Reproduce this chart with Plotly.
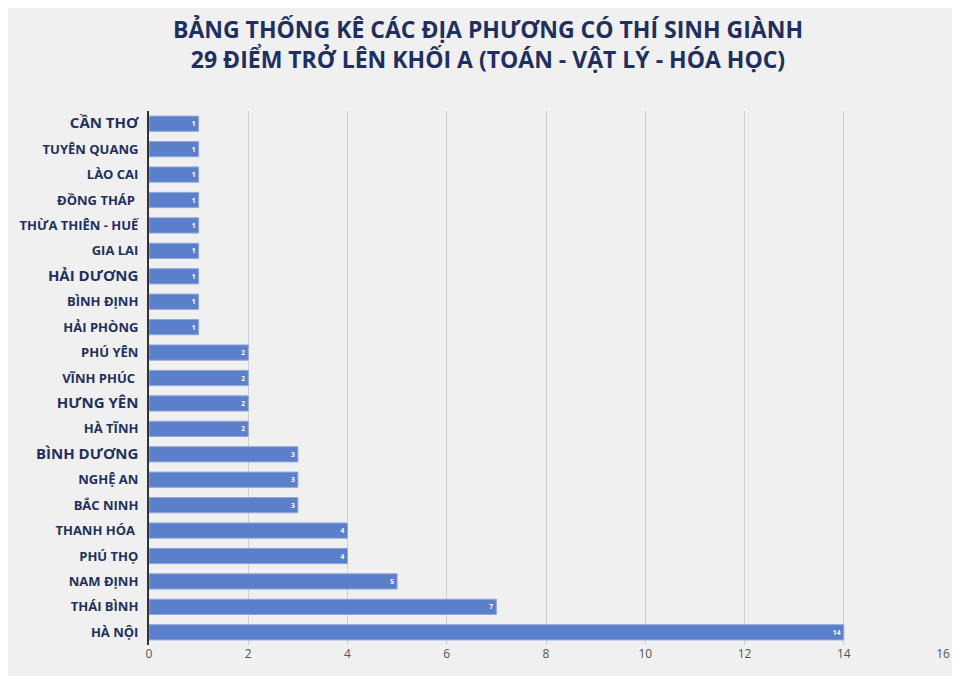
import plotly.graph_objects as go

provinces = ["HÀ NỘI", "THÁI BÌNH", "NAM ĐỊNH", "PHÚ THỌ", "THANH HÓA ", "BẮC NINH",
             "NGHỆ AN", "BÌNH DƯƠNG", "HÀ TĨNH", "HƯNG YÊN", "VĨNH PHÚC ", "PHÚ YÊN",
             "HẢI PHÒNG", "BÌNH ĐỊNH", "HẢI DƯƠNG", "GIA LAI", "THỪA THIÊN - HUẾ",
             "ĐỒNG THÁP ", "LÀO CAI", "TUYÊN QUANG", "CẦN THƠ"]
counts = [14, 7, 5, 4, 4, 3, 3, 3, 2, 2, 2, 2, 1, 1, 1, 1, 1, 1, 1, 1, 1]
big_labels = {"CẦN THƠ", "HẢI DƯƠNG", "HƯNG YÊN", "BÌNH DƯƠNG"}
x_ticks = [0, 2, 4, 6, 8, 10, 12, 14, 16]

navy = "#1F2F5F"
tick_text = [f"<span style='font-size:15px'>{p}</span>" if p in big_labels else p
             for p in provinces]

fig = go.Figure(go.Bar(
    x=counts, y=provinces, orientation="h",
    marker=dict(color="#5B7FCB", line=dict(color="#8FA8DC", width=1)),
    width=0.6,
    text=counts, textposition="inside", insidetextanchor="end", textangle=0,
    textfont=dict(color="white", size=13, family="Open Sans", weight="bold"),
))

fig.update_layout(
    width=960, height=676,
    margin=dict(l=141, r=25, t=103, b=39),
    paper_bgcolor="#F0F0F0", plot_bgcolor="rgba(0,0,0,0)",
    title=dict(
        text="BẢNG THỐNG KÊ CÁC ĐỊA PHƯƠNG CÓ THÍ SINH GIÀNH<br>29 ĐIỂM TRỞ LÊN KHỐI A (TOÁN - VẬT LÝ - HÓA HỌC)",
        x=0.5, xanchor="center", y=0.955, yanchor="top",
        font=dict(family="Open Sans", size=23, color=navy, weight="bold"),
    ),
    font=dict(family="Open Sans"),
    showlegend=False,
)
fig.update_xaxes(range=[0, 16], tickvals=x_ticks, showgrid=True, gridcolor="#D0D0D0",
                 zeroline=False, automargin=False, tickfont=dict(size=12, color="#555555"))
fig.update_yaxes(categoryorder="array", categoryarray=provinces, tickvals=provinces,
                 ticktext=tick_text, showline=True, linecolor="#333333", linewidth=2,
                 ticks="outside", ticklen=6, tickcolor="rgba(0,0,0,0)", automargin=False,
                 tickfont=dict(size=13, color=navy, weight="bold"))

fig.write_html("out.html")
